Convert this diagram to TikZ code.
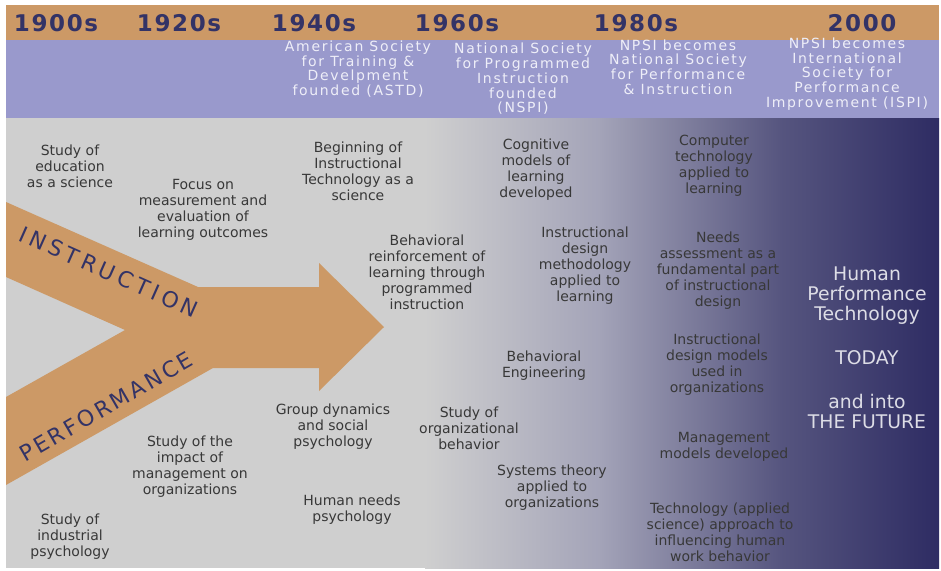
\documentclass[tikz,border=0pt]{standalone}
\usepackage{fontspec}
\setmainfont{DejaVu Sans}
\newfontfamily\yearfam{DejaVu Sans}[LetterSpace=7]
\newfontfamily\bandfam{DejaVu Sans}[LetterSpace=12]
\newfontfamily\instrfam{DejaVu Sans}[LetterSpace=19]
\newfontfamily\perffam{DejaVu Sans}[LetterSpace=13]

\definecolor{hdrorange}{HTML}{CC9966}
\definecolor{bandpurple}{HTML}{9999CC}
\definecolor{navy}{HTML}{333366}
\definecolor{bggray}{HTML}{CFCFCF}
\definecolor{midgray}{HTML}{A3A3B8}
\definecolor{slate}{HTML}{56557F}
\definecolor{darkend}{HTML}{2E2C63}
\definecolor{labelgray}{HTML}{383838}
\definecolor{bandtext}{HTML}{EEEEF8}
\definecolor{futuretext}{HTML}{DDDDE6}

\newcommand\lblfnt{\fontsize{14}{16}\selectfont}
\newcommand\bandfnt{\bandfam\fontsize{14}{14.7}\selectfont}
\newcommand\yearfnt{\yearfam\bfseries\fontsize{23}{26}\selectfont}
\newcommand\instrfnt{\instrfam\fontsize{22}{24}\selectfont}
\newcommand\perffnt{\perffam\fontsize{22}{24}\selectfont}
\newcommand\futurefnt{\fontsize{18.8}{20}\selectfont}

\begin{document}
\begin{tikzpicture}[x=1pt,y=-1pt,
  lbl/.style={text=labelgray, align=center, inner sep=0pt, font=\lblfnt},
  eventtxt/.style={text=bandtext, align=center, inner sep=0pt, font=\bandfnt},
  yeartxt/.style={text=navy, inner sep=0pt, font=\yearfnt},
  streamtxt/.style={text=navy, inner sep=0pt},
  futuretxt/.style={text=futuretext, align=center, inner sep=0pt, font=\futurefnt}]

% canvas
\fill[white] (0,0) rectangle (941,570);
\useasboundingbox (0,0) rectangle (941,570);

% header bands
\fill[hdrorange] (6,5) rectangle (939,40);
\fill[bandpurple] (6,40) rectangle (939,118);

% timeline field: flat gray fading to navy on the right
\fill[bggray] (6,118) rectangle (426,568);
\fill[left color=bggray, right color=midgray] (425,118) rectangle (601,568);
\fill[left color=midgray, right color=slate] (600,118) rectangle (781,568);
\fill[left color=slate, right color=darkend] (780,118) rectangle (939,568);

% converging arrow of the two streams
\fill[hdrorange] (6,202) -- (198,287) -- (319,287) -- (319,263) -- (384,327)
  -- (319,391) -- (319,368) -- (213,368) -- (6,485) -- (6,397) -- (125,330)
  -- (6,277) -- cycle;

\node[streamtxt, font=\instrfnt, rotate=-24] (instr) at (109,272) {INSTRUCTION};
\node[streamtxt, font=\perffnt, rotate=30] (perf) at (106,407) {PERFORMANCE};

% decades
\node[yeartxt] (y1900) at (56,23) {1900s};
\node[yeartxt] (y1920) at (179,23) {1920s};
\node[yeartxt] (y1940) at (314,23) {1940s};
\node[yeartxt] (y1960) at (457,23) {1960s};
\node[yeartxt] (y1980) at (636,23) {1980s};
\node[yeartxt] (y2000) at (862,23) {2000};

% societies
\node[eventtxt] (astd) at (358,69) {American Society\\for Training \&\\Develpment\\founded (ASTD)};
\node[eventtxt] (nspi) at (523,79) {National Society\\for Programmed\\Instruction\\founded\\(NSPI)};
\node[eventtxt] (nspi2) at (678,67) {NPSI becomes\\National Society\\for Performance\\\& Instruction};
\node[eventtxt] (ispi) at (847,74) {NPSI becomes\\International\\Society for\\Performance\\Improvement (ISPI)};

% milestones
\node[lbl] (edsci) at (70,166) {Study of\\education\\as a science};
\node[lbl] (measure) at (203,210) {Focus on\\measurement and\\evaluation of\\learning outcomes};
\node[lbl] (instech) at (358,171) {Beginning of\\Instructional\\Technology as a\\science};
\node[lbl] (behrein) at (427,272) {Behavioral\\reinforcement of\\learning through\\programmed\\instruction};
\node[lbl] (mgmt) at (190,467) {Study of the\\impact of\\management on\\organizations};
\node[lbl] (group) at (333,427) {Group dynamics\\and social\\psychology};
\node[lbl] (needs) at (352,510) {Human needs\\psychology};
\node[lbl] (indpsy) at (70,537) {Study of\\industrial\\psychology};
\node[lbl] (cogn) at (536,170) {Cognitive\\models of\\learning\\developed};
\node[lbl] (idmeth) at (585,266) {Instructional\\design\\methodology\\applied to\\learning};
\node[lbl] (beheng) at (544,366) {Behavioral\\Engineering};
\node[lbl] (orgbeh) at (469,428) {Study of\\organizational\\behavior};
\node[lbl] (systems) at (552,488) {Systems theory\\applied to\\organizations};
\node[lbl] (comptech) at (714,166) {Computer\\technology\\applied to\\learning};
\node[lbl] (needsas) at (718,271) {Needs\\assessment as a\\fundamental part\\of instructional\\design};
\node[lbl] (idmodels) at (717,365) {Instructional\\design models\\used in\\organizations};
\node[lbl] (mgmtmod) at (724,447) {Management\\models developed};
\node[lbl] (techappr) at (720,532) {Technology (applied\\science) approach to\\influencing human\\work behavior};

% present and future
\node[futuretxt] (hpt) at (867,296) {Human\\Performance\\Technology};
\node[futuretxt] (today) at (867,358) {TODAY};
\node[futuretxt] (future) at (867,411) {and into\\THE FUTURE};
\end{tikzpicture}
\end{document}
